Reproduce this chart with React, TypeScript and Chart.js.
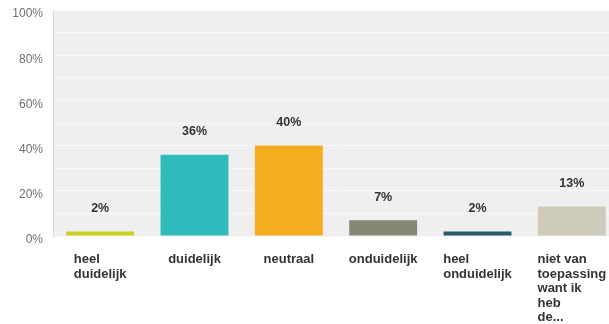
import React, { useEffect, useRef } from "react";
import { Chart, registerables } from "chart.js";

Chart.register(...registerables);

const categories: string[][] = [
  ["heel", "duidelijk"],
  ["duidelijk"],
  ["neutraal"],
  ["onduidelijk"],
  ["heel", "onduidelijk"],
  ["niet van", "toepassing", "want ik", "heb", "de..."],
];
const values: number[] = [2, 36, 40, 7, 2, 13];
const valueLabels: string[] = ["2%", "36%", "40%", "7%", "2%", "13%"];
const barColors: string[] = ["#cad225", "#30bcbd", "#f5ad20", "#868877", "#295c6b", "#cecbbb"];

const FONT = "'Liberation Sans', Arial, sans-serif";

const bgPlugin = {
  id: "bgPlugin",
  beforeDraw(chart: any) {
    const { ctx, chartArea } = chart;
    ctx.save();
    ctx.fillStyle = "#efefef";
    ctx.fillRect(chartArea.left, chartArea.top, chartArea.right - chartArea.left, chartArea.bottom - chartArea.top);
    ctx.restore();
  },
};

const labelPlugin = {
  id: "labelPlugin",
  afterDatasetsDraw(chart: any) {
    const { ctx } = chart;
    const meta = chart.getDatasetMeta(0);
    ctx.save();
    ctx.fillStyle = "#333333";
    meta.data.forEach((bar: any, i: number) => {
      // value label
      ctx.font = `bold 12.5px ${FONT}`;
      ctx.textAlign = "center";
      ctx.textBaseline = "middle";
      ctx.fillText(valueLabels[i], bar.x, bar.y - 23);
      // category label: left-aligned block centred on the bar
      ctx.font = `bold 13px ${FONT}`;
      ctx.textAlign = "left";
      ctx.textBaseline = "alphabetic";
      const maxW = Math.max(...categories[i].map((l) => ctx.measureText(l).width));
      const left = bar.x - maxW / 2;
      const base = chart.chartArea.bottom + 27;
      categories[i].forEach((line, j) => {
        ctx.fillText(line, left, base + j * 14.6);
      });
    });
    ctx.restore();
  },
};

export default function App() {
  const ref = useRef<HTMLCanvasElement | null>(null);
  useEffect(() => {
    if (!ref.current) return;
    const chart = new Chart(ref.current, {
      type: "bar",
      data: {
        labels: categories.map((c) => c.join(" ")),
        datasets: [
          {
            data: values,
            backgroundColor: barColors,
            borderWidth: 0,
            barPercentage: 0.72,
            categoryPercentage: 1,
          },
        ],
      },
      options: {
        responsive: false,
        animation: false,
        layout: { padding: { top: 10, right: 1, bottom: 88, left: 0 } },
        plugins: { legend: { display: false }, tooltip: { enabled: false } },
        scales: {
          x: {
            display: true,
            ticks: { display: false },
            grid: { display: false, drawTicks: false },
            border: { display: false },
          },
          y: {
            min: 0,
            max: 100,
            afterFit(scale: any) {
              scale.width = 53;
              scale.paddingTop = 0;
              scale.paddingBottom = 0;
            },
            ticks: {
              stepSize: 10,
              padding: 10,
              labelOffset: 4,
              color: "#707070",
              font: { family: FONT, size: 12 },
              callback: (v: any) => (Number(v) % 20 === 0 ? `${v}%` : ""),
            },
            grid: { color: "#f8f8f8", lineWidth: 1, drawTicks: false },
            border: { display: true, color: "#d9d9d9" },
          },
        },
      },
      plugins: [bgPlugin, labelPlugin],
    });
    return () => chart.destroy();
  }, []);
  return (
    <div style={{ position: "fixed", left: 0, top: 0, width: 609, height: 324, overflow: "hidden", background: "#fff" }}>
      <canvas ref={ref} width={620} height={324} style={{ width: 620, height: 324, display: "block" }} />
    </div>
  );
}
